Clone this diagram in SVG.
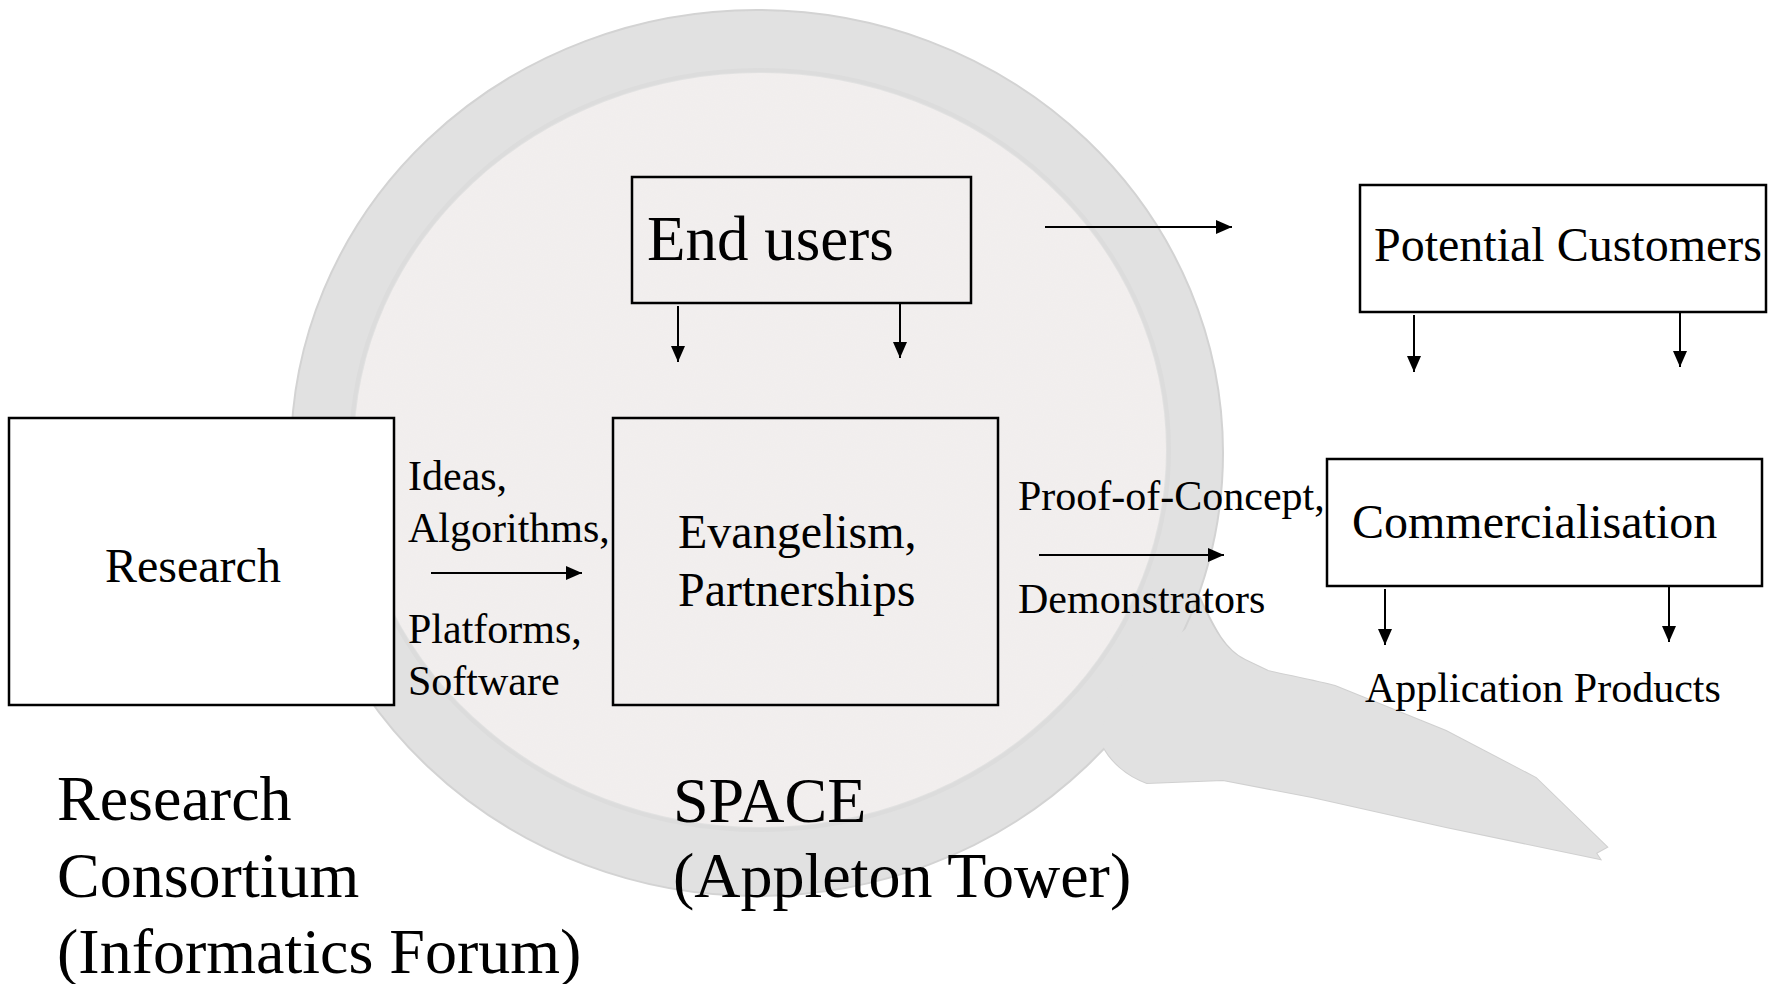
<svg xmlns="http://www.w3.org/2000/svg" width="1776" height="984" viewBox="0 0 1776 984">
<style>
  .box{fill:none;stroke:#000;stroke-width:2.5}
  .wbox{fill:#fff;stroke:#000;stroke-width:2.5}
  .t{font-family:"Liberation Serif","Times New Roman",serif;fill:#000}
  .s42{font-size:42px}
  .s48{font-size:48px}
  .s63{font-size:63px}
  .s64{font-size:64px}
  .conn line{stroke:#000;stroke-width:2;marker-end:url(#ah)}
</style>
<defs>
  <marker id="ah" markerUnits="userSpaceOnUse" markerWidth="16" markerHeight="16" viewBox="0 0 16 16" refX="16" refY="8" orient="auto">
    <path d="M0,1 L16,8 L0,15 Z" fill="#000"/>
  </marker>
  <filter id="tex" x="0" y="0" width="100%" height="100%">
    <feTurbulence type="fractalNoise" baseFrequency="0.85" numOctaves="1" seed="5" result="n"/>
    <feColorMatrix in="n" type="matrix" values="0 0 0 0 0.85  0 0 0 0 0.80  0 0 0 0 0.80  0.4 0 0 0 -0.15" result="c"/>
    <feComposite in="c" in2="SourceGraphic" operator="in" result="m"/>
    <feMerge><feMergeNode in="SourceGraphic"/><feMergeNode in="m"/></feMerge>
  </filter>
</defs>
<rect width="1776" height="984" fill="#fff"/>
<g id="magnifier">
  <path d="M1200,598 C1215,630 1225,650 1245,660 L1268,671 C1300,678 1320,682 1335,686 L1446,731 L1536,778 L1607,847 L1596,853 L1600,859 L1446,827 L1312,797 L1223,780 L1147,783 C1125,775 1110,760 1103,746 L1080,720 Z" fill="#e1e1e1" stroke="#d0d0d0" stroke-width="2"/>
  <ellipse cx="757" cy="453" rx="466" ry="443" fill="#e1e1e1" stroke="#d3d3d3" stroke-width="2"/>
  <path d="M1105,700 L1103,746 C1110,760 1125,775 1147,783 L1223,780 L1312,797 L1446,827 L1600,859 L1596,853 L1607,847 L1536,778 L1446,731 L1335,686 C1320,682 1300,678 1268,671 L1245,660 C1225,650 1215,630 1205,612 Z" fill="#e1e1e1"/>
  <ellipse cx="760" cy="450" rx="409" ry="380" fill="none" stroke="#dcdcdc" stroke-width="4"/>
  <ellipse cx="760" cy="450" rx="406" ry="377" fill="#f2efee" filter="url(#tex)"/>
</g>
<g id="research">
  <rect class="wbox" x="9" y="418" width="385" height="287"/>
  <text class="t s48" x="105" y="582">Research</text>
</g>
<g id="endusers">
  <rect class="box" x="632" y="177" width="339" height="126"/>
  <text class="t s63" x="647" y="260">End users</text>
</g>
<g id="evangelism">
  <rect class="box" x="613" y="418" width="385" height="287"/>
  <text class="t s48" x="678" y="548">Evangelism,</text>
  <text class="t s48" x="678" y="606">Partnerships</text>
</g>
<g id="customers">
  <rect class="wbox" x="1360" y="185" width="406" height="127"/>
  <text class="t s48" x="1374" y="261">Potential Customers</text>
</g>
<g id="commercialisation">
  <rect class="wbox" x="1327" y="459" width="435" height="127"/>
  <text class="t s48" x="1352" y="538">Commercialisation</text>
</g>
<g id="labels">
  <text class="t s42" x="408" y="490">Ideas,</text>
  <text class="t s42" x="408" y="542">Algorithms,</text>
  <text class="t s42" x="408" y="643">Platforms,</text>
  <text class="t s42" x="408" y="695">Software</text>
  <text class="t s42" x="1018" y="510">Proof-of-Concept,</text>
  <text class="t s42" x="1018" y="613">Demonstrators</text>
  <text class="t s42" x="1365" y="702">Application Products</text>
  <text class="t s64" x="57" y="820">Research</text>
  <text class="t s64" x="57" y="897">Consortium</text>
  <text class="t s64" x="57" y="973">(Informatics Forum)</text>
  <text class="t s64" x="673" y="822">SPACE</text>
  <text class="t s64" x="673" y="897">(Appleton Tower)</text>
</g>
<g id="connectors" class="conn">
  <line x1="678" y1="306" x2="678" y2="362"/>
  <line x1="900" y1="303" x2="900" y2="358"/>
  <line x1="1045" y1="227" x2="1232" y2="227"/>
  <line x1="1414" y1="315" x2="1414" y2="372"/>
  <line x1="1680" y1="312" x2="1680" y2="367"/>
  <line x1="431" y1="573" x2="582" y2="573"/>
  <line x1="1039" y1="555" x2="1224" y2="555"/>
  <line x1="1385" y1="589" x2="1385" y2="645"/>
  <line x1="1669" y1="586" x2="1669" y2="642"/>
</g>
</svg>
